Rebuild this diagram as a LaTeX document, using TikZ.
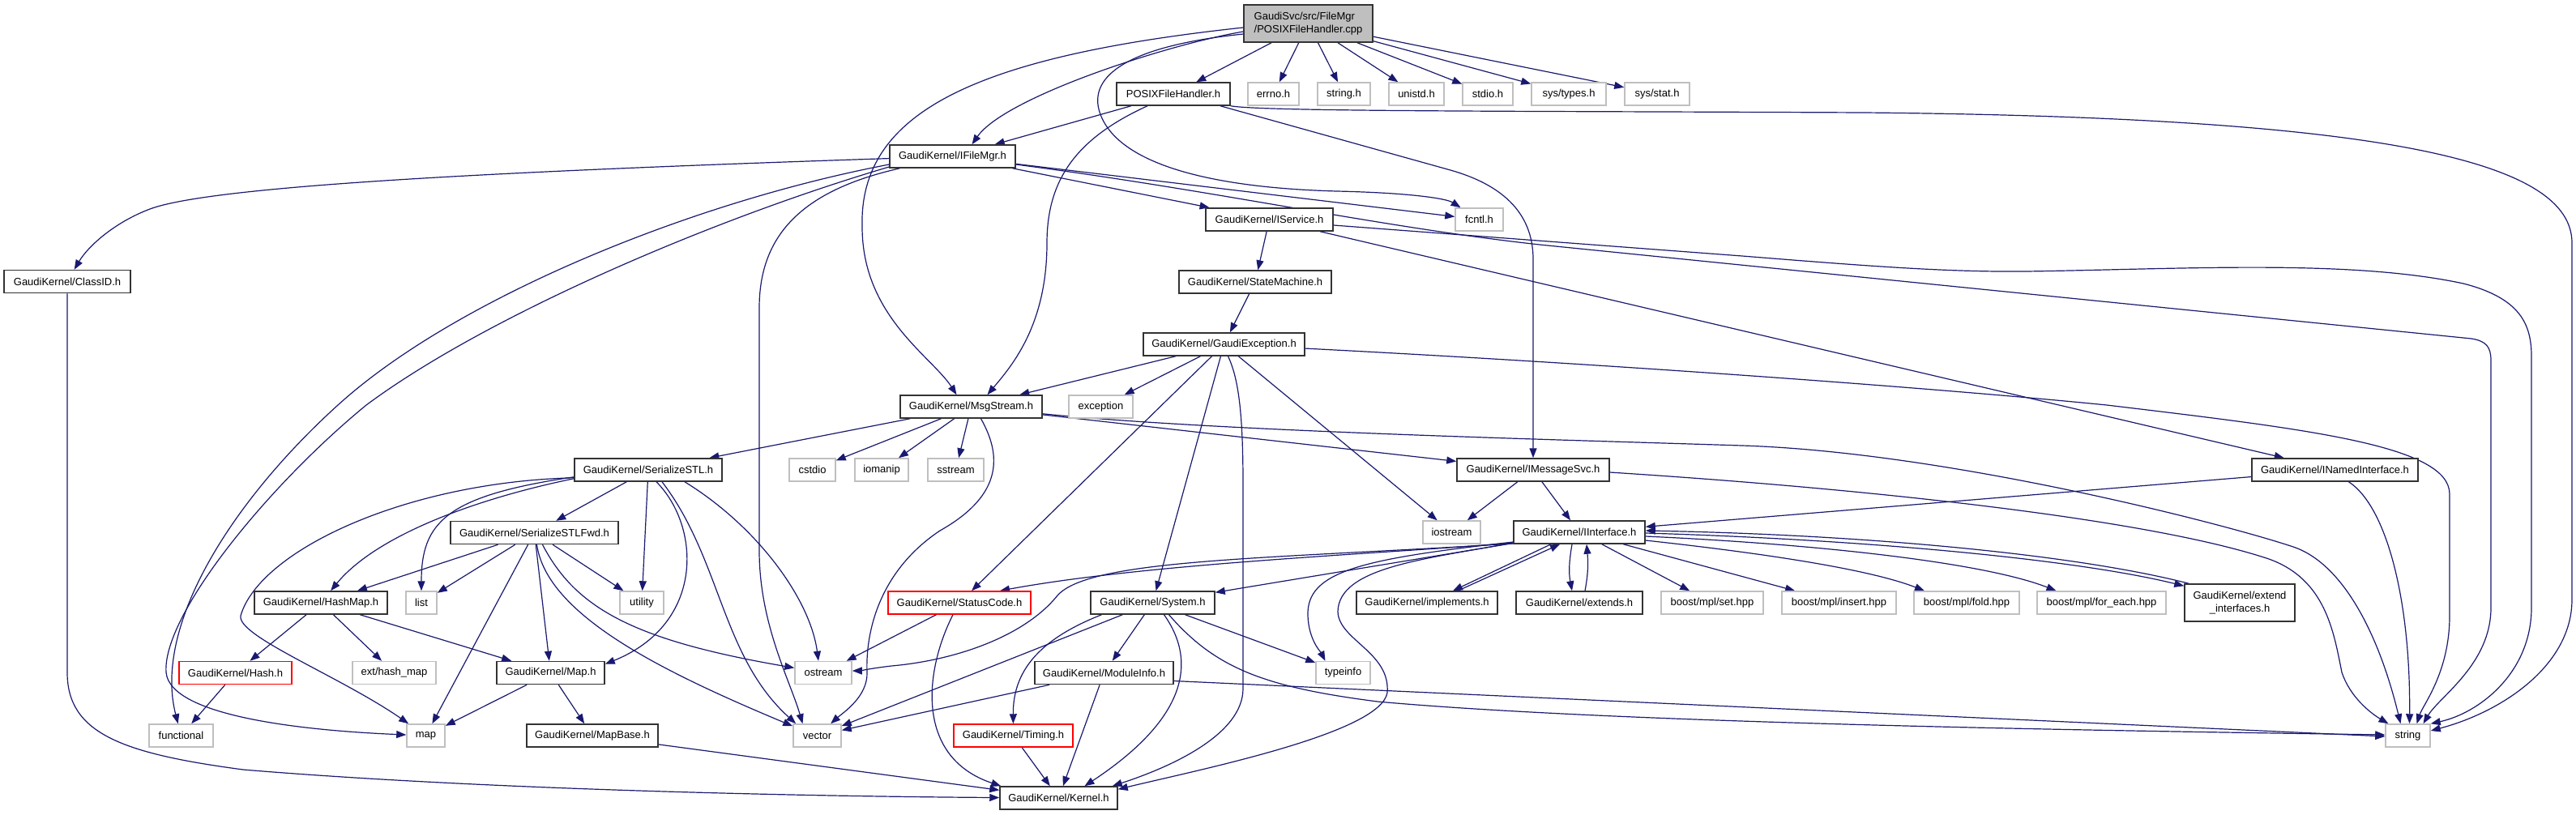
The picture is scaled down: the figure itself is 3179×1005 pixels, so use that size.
\documentclass[tikz,border=0pt]{standalone}
\usepackage{fontspec}
\setmainfont{Liberation Sans}
\usetikzlibrary{arrows.meta}
\pgfdeclarelayer{bg}
\pgfdeclarelayer{paper}
\pgfsetlayers{paper,bg,main}
\definecolor{eb}{HTML}{191970}
\definecolor{lg}{HTML}{BFBFBF}
\begin{document}
\begin{tikzpicture}[x=1pt,y=-1pt,
 gbox/.style={rectangle, inner sep=0pt, minimum height=28pt, line width=1.5pt, fill=white, font=\fontsize{13}{16.5}\selectfont, text=black},
 nb/.style={gbox, draw=black!80},
 ng/.style={gbox, draw=lg},
 nr/.style={gbox, draw=red},
 ed/.style={draw=eb, line width=1.2pt, -{Triangle[length=12pt,width=9pt]}},
]
\useasboundingbox (0,0) rectangle (3179,1005);
\begin{pgfonlayer}{paper}
\fill[white] (0,0) rectangle (3179,1005);
\end{pgfonlayer}
% nodes
\node[nb, fill=lg, minimum width=159pt, minimum height=46pt, align=left] (root) at (1614.5,29) {GaudiSvc/src/FileMgr\\/POSIXFileHandler.cpp};
\node[nb, minimum width=140pt] (posixh) at (1448,116) {POSIXFileHandler.h};
\node[ng, minimum width=63pt] (errno) at (1571.5,116) {errno.h};
\node[ng, minimum width=65pt] (stringh) at (1658.5,116) {string.h};
\node[ng, minimum width=68pt] (unistd) at (1748,116) {unistd.h};
\node[ng, minimum width=62pt] (stdio) at (1836,116) {stdio.h};
\node[ng, minimum width=92pt] (systypes) at (1936,116) {sys/types.h};
\node[ng, minimum width=80pt] (sysstat) at (2045,116) {sys/stat.h};
\node[nb, minimum width=155pt] (ifilemgr) at (1175.5,193) {GaudiKernel/IFileMgr.h};
\node[nb, minimum width=157pt] (iservice) at (1566.5,271) {GaudiKernel/IService.h};
\node[ng, minimum width=59pt] (fcntl) at (1825.5,271) {fcntl.h};
\node[nb, minimum width=156pt] (classid) at (83,347.5) {GaudiKernel/ClassID.h};
\node[nb, minimum width=188pt] (statemachine) at (1549,348) {GaudiKernel/StateMachine.h};
\node[nb, minimum width=199pt] (gaudiexc) at (1510.5,425) {GaudiKernel/GaudiException.h};
\node[nb, minimum width=175pt] (msgstream) at (1198.5,502) {GaudiKernel/MsgStream.h};
\node[ng, minimum width=79pt] (exception) at (1358.5,502) {exception};
\node[nb, minimum width=182pt] (serialstl) at (800,580) {GaudiKernel/SerializeSTL.h};
\node[ng, minimum width=57pt] (cstdio) at (1002.5,580) {cstdio};
\node[ng, minimum width=66pt] (iomanip) at (1088,580) {iomanip};
\node[ng, minimum width=69pt] (sstream) at (1179.5,580) {sstream};
\node[nb, minimum width=188pt] (imsgsvc) at (1892,580) {GaudiKernel/IMessageSvc.h};
\node[nb, minimum width=205pt] (inamed) at (2881.5,580) {GaudiKernel/INamedInterface.h};
\node[nb, minimum width=207pt] (serialfwd) at (659.5,657.5) {GaudiKernel/SerializeSTLFwd.h};
\node[ng, minimum width=71pt] (iostream) at (1791.5,657) {iostream};
\node[nb, minimum width=162pt] (iinterface) at (1949,657) {GaudiKernel/IInterface.h};
\node[nb, minimum width=164pt] (hashmap) at (396,744) {GaudiKernel/HashMap.h};
\node[ng, minimum width=38pt] (list) at (520,744) {list};
\node[ng, minimum width=54pt] (utility) at (792,744) {utility};
\node[nr, minimum width=176pt] (statuscode) at (1184,744) {GaudiKernel/StatusCode.h};
\node[nb, minimum width=153pt] (system) at (1422.5,744) {GaudiKernel/System.h};
\node[nb, minimum width=174pt] (implements) at (1761,744) {GaudiKernel/implements.h};
\node[nb, minimum width=156pt] (extends) at (1949,744) {GaudiKernel/extends.h};
\node[ng, minimum width=126pt] (mplset) at (2113,744) {boost/mpl/set.hpp};
\node[ng, minimum width=141pt] (mplinsert) at (2269.5,744) {boost/mpl/insert.hpp};
\node[ng, minimum width=130pt] (mplfold) at (2427,744) {boost/mpl/fold.hpp};
\node[ng, minimum width=159pt] (mplforeach) at (2593.5,744) {boost/mpl/for\_each.hpp};
\node[nb, minimum width=136pt, minimum height=46pt, align=center] (extendif) at (2764,744) {GaudiKernel/extend\\\_interfaces.h};
\node[nr, minimum width=139pt] (hash) at (290.5,830.5) {GaudiKernel/Hash.h};
\node[ng, minimum width=103pt] (exthashmap) at (486.5,830.5) {ext/hash\_map};
\node[nb, minimum width=133pt] (maph) at (679.5,830.5) {GaudiKernel/Map.h};
\node[ng, minimum width=70pt] (ostream) at (1016,830.5) {ostream};
\node[nb, minimum width=171pt] (moduleinfo) at (1362.5,830.5) {GaudiKernel/ModuleInfo.h};
\node[ng, minimum width=67pt] (typeinfo) at (1657.5,830.5) {typeinfo};
\node[ng, minimum width=79pt] (functional) at (223.5,908) {functional};
\node[ng, minimum width=47pt] (map) at (525.5,908) {map};
\node[nb, minimum width=162pt] (mapbase) at (731,908) {GaudiKernel/MapBase.h};
\node[ng, minimum width=59pt] (vector) at (1008.5,908) {vector};
\node[nr, minimum width=147pt] (timing) at (1250.5,908) {GaudiKernel/Timing.h};
\node[ng, minimum width=55pt] (string) at (2971.5,908) {string};
\node[nb, minimum width=145pt] (kernel) at (1306.5,985) {GaudiKernel/Kernel.h};
% edges
\begin{pgfonlayer}{bg}
% root
\draw[ed] (root) -- (posixh);
\draw[ed] (root) -- (errno);
\draw[ed] (root) -- (stringh);
\draw[ed] (root) -- (unistd);
\draw[ed] (root) -- (stdio);
\draw[ed] (root) -- (systypes);
\draw[ed] (root) -- (sysstat);
\draw[ed] ([yshift=-10pt]root.west) .. controls (1440,55) and (1240,120) .. ([xshift=24pt]ifilemgr.north);
\draw[ed] ([yshift=-5pt]root.west) .. controls (1200,70) and (1060,140) .. (1064,280) .. controls (1064,390) and (1150,440) .. ([xshift=-18pt]msgstream.north);
\draw[ed] ([yshift=-13pt]root.west) .. controls (1380,58) and (1335,100) .. (1362,150) .. controls (1392,205) and (1500,232) .. (1650,236) .. controls (1740,238) and (1785,245) .. (fcntl);
% posixh
\draw[ed] (posixh) -- (ifilemgr);
\draw[ed] ([xshift=-32pt]posixh.south) .. controls (1330,170) and (1292,220) .. (1292,300) .. controls (1292,400) and (1250,450) .. ([xshift=20pt]msgstream.north);
\draw[ed] ([xshift=58pt]posixh.south) -- (1790,210) .. controls (1850,227) and (1892,260) .. (1892,320) -- (imsgsvc);
\draw[ed] (posixh.south east) .. controls (1560,138) and (1900,137) .. (2300,139) .. controls (2950,145) and (3174,200) .. (3174,300) -- (3174,740) .. controls (3174,820) and (3090,878) .. ([yshift=6pt]string.east);
% ifilemgr
\draw[ed] (ifilemgr) .. controls (600,212) and (260,230) .. (185,258) .. controls (140,275) and (108,305) .. (classid);
\draw[ed] ([yshift=-10pt]ifilemgr.west) .. controls (850,250) and (560,370) .. (417,500) .. controls (290,615) and (188,770) .. (functional);
\draw[ed] ([yshift=-13pt]ifilemgr.west) .. controls (880,270) and (600,390) .. (452,500) .. controls (330,600) and (200,760) .. (205,830) .. controls (210,885) and (380,902) .. (map);
\draw[ed] ([xshift=-65pt]ifilemgr.south) .. controls (990,235) and (937,290) .. (937,380) -- (937,680) .. controls (937,770) and (975,840) .. ([xshift=-18pt]vector.north);
\draw[ed] (ifilemgr) -- (iservice);
\draw[ed] (ifilemgr) -- (fcntl);
\draw[ed] ([yshift=-10pt]ifilemgr.east) .. controls (1500,235) and (1700,280) .. (1900,302) -- (3050,418) .. controls (3068,421) and (3074,428) .. (3074,445) -- (3074,750) .. controls (3074,820) and (3010,860) .. ([xshift=19pt]string.north);
% iservice
\draw[ed] (iservice) -- (statemachine);
\draw[ed] (iservice) -- (inamed);
\draw[ed] ([yshift=-7pt]iservice.east) -- (2150,316) .. controls (2300,328) and (2400,336) .. (2500,335) .. controls (2700,332) and (2900,320) .. (3040,350) .. controls (3110,368) and (3124,400) .. (3124,440) -- (3124,750) .. controls (3124,830) and (3060,880) .. (string.north east);
% statemachine
\draw[ed] (statemachine) -- (gaudiexc);
% gaudiexc
\draw[ed] (gaudiexc) -- (msgstream);
\draw[ed] (gaudiexc) -- (exception);
\draw[ed] (gaudiexc) -- (statuscode);
\draw[ed] (gaudiexc) -- (system);
\draw[ed] (gaudiexc) -- (iostream);
\draw[ed] ([xshift=5pt]gaudiexc.south) .. controls (1530,470) and (1534,520) .. (1534,600) -- (1534,850) .. controls (1534,905) and (1450,945) .. ([xshift=-7pt]kernel.north east);
\draw[ed] (gaudiexc) .. controls (2000,450) and (2400,480) .. (2600,500) .. controls (2850,530) and (3023,550) .. (3023,610) -- (3023,760) .. controls (3023,830) and (2990,870) .. ([xshift=11pt]string.north);
% msgstream
\draw[ed] (msgstream) -- (serialstl);
\draw[ed] (msgstream) -- (cstdio);
\draw[ed] (msgstream) -- (iomanip);
\draw[ed] (msgstream) -- (sstream);
\draw[ed] ([xshift=12pt]msgstream.south) .. controls (1235,560) and (1240,610) .. (1160,655) .. controls (1085,705) and (1068,780) .. (1070,830) .. controls (1071,860) and (1040,880) .. (vector);
\draw[ed] (msgstream) -- (imsgsvc);
\draw[ed] (msgstream) .. controls (1500,532) and (1900,542) .. (2150,550) .. controls (2400,558) and (2740,645) .. (2830,675) .. controls (2890,695) and (2935,780) .. ([xshift=-9pt]string.north);
% imsgsvc
\draw[ed] (imsgsvc) -- (iostream);
\draw[ed] (imsgsvc) -- (iinterface);
\draw[ed] ([yshift=-3pt]imsgsvc.east) .. controls (2300,603) and (2650,640) .. (2800,690) .. controls (2870,715) and (2880,780) .. (2890,830) .. controls (2900,860) and (2925,880) .. ([xshift=-24pt]string.north);
% inamed
\draw[ed] (inamed) -- (iinterface);
\draw[ed] ([xshift=17pt]inamed.south) .. controls (2945,625) and (2975,740) .. ([xshift=2pt]string.north);
% iinterface
\draw[ed] ([yshift=-13pt]iinterface.west) .. controls (1700,684) and (1420,695) .. ([xshift=50pt]statuscode.north);
\draw[ed] ([yshift=-14pt]iinterface.west) .. controls (1560,690) and (1345,690) .. (1305,735) .. controls (1265,785) and (1180,815) .. (1100,822) .. controls (1075,825) and (1060,828) .. ([yshift=2.5pt]ostream.east);
\draw[ed] (iinterface) -- (system);
\draw[ed] ([yshift=-12pt]iinterface.west) .. controls (1680,690) and (1612,705) .. (1614,760) .. controls (1615,790) and (1630,805) .. ([xshift=-22pt]typeinfo.north);
\draw[ed] ([yshift=-13pt]iinterface.west) .. controls (1760,690) and (1652,700) .. (1651,755) .. controls (1652,790) and (1716,805) .. (1712,855) .. controls (1704,905) and (1480,950) .. ([yshift=-4pt]kernel.north east);
\draw[ed] ([xshift=-35pt]iinterface.south) -- ([xshift=32pt]implements.north);
\draw[ed] ([xshift=38pt]implements.north) -- ([xshift=-24pt]iinterface.south);
\draw[ed] ([xshift=-9pt]iinterface.south) .. controls (1936,695) and (1936,708) .. ([xshift=-9pt]extends.north);
\draw[ed] ([xshift=7pt]extends.north) .. controls (1960,708) and (1960,695) .. ([xshift=9pt]iinterface.south);
\draw[ed] (iinterface) -- (mplset);
\draw[ed] (iinterface) -- (mplinsert);
\draw[ed] ([yshift=-10pt]iinterface.east) .. controls (2150,680) and (2300,700) .. ([xshift=-52pt]mplfold.north);
\draw[ed] ([yshift=-5pt]iinterface.east) .. controls (2250,672) and (2450,695) .. ([xshift=-56pt]mplforeach.north);
\draw[ed] ([yshift=-1pt]iinterface.east) .. controls (2300,666) and (2560,690) .. ([yshift=-3pt]extendif.north west);
\draw[ed] ([xshift=6pt]extendif.north west) .. controls (2560,684) and (2300,660) .. ([yshift=2pt]iinterface.east);
% system
\draw[ed] ([xshift=-63pt]system.south) .. controls (1280,790) and (1250,830) .. (timing);
\draw[ed] (system) -- (vector);
\draw[ed] (system) -- (moduleinfo);
\draw[ed] ([xshift=14pt]system.south) .. controls (1480,820) and (1460,890) .. ([xshift=32pt]kernel.north);
\draw[ed] (system) -- (typeinfo);
\draw[ed] ([xshift=20pt]system.south) .. controls (1500,825) and (1560,848) .. (1700,866) .. controls (2000,893) and (2600,902) .. ([yshift=1pt]string.west);
% moduleinfo
\draw[ed] (moduleinfo) -- (vector);
\draw[ed] (moduleinfo) -- (kernel);
\draw[ed] ([yshift=-10pt]moduleinfo.east) -- ([yshift=-1pt]string.west);
% timing, statuscode
\draw[ed] (timing) -- (kernel);
\draw[ed] (statuscode) -- (ostream);
\draw[ed] ([xshift=-8pt]statuscode.south) .. controls (1140,830) and (1130,935) .. ([xshift=2pt]kernel.north west);
% serialstl
\draw[ed] (serialstl) -- (serialfwd);
\draw[ed] ([yshift=4pt]serialstl.south west) .. controls (590,615) and (465,660) .. (hashmap);
\draw[ed] ([yshift=6pt]serialstl.south west) .. controls (550,612) and (520,645) .. (list);
\draw[ed] ([yshift=5pt]serialstl.south west) .. controls (500,595) and (320,680) .. (297,760) .. controls (292,785) and (420,835) .. (map);
\draw[ed] (serialstl) -- (utility);
\draw[ed] ([xshift=10pt]serialstl.south) .. controls (865,650) and (870,770) .. ([yshift=-4pt]maph.north east);
\draw[ed] ([xshift=17pt]serialstl.south) .. controls (890,690) and (890,810) .. ([xshift=4pt]vector.north west);
\draw[ed] ([xshift=45pt]serialstl.south) .. controls (935,650) and (1000,740) .. ([xshift=-6pt]ostream.north);
% serialfwd
\draw[ed] (serialfwd) -- (hashmap);
\draw[ed] (serialfwd) -- (list);
\draw[ed] (serialfwd) -- (map);
\draw[ed] (serialfwd) -- (maph);
\draw[ed] ([xshift=3pt]serialfwd.south) .. controls (675,760) and (820,830) .. ([yshift=-3pt]vector.north west);
\draw[ed] ([xshift=10pt]serialfwd.south) .. controls (710,750) and (780,790) .. (ostream);
\draw[ed] (serialfwd) -- (utility);
% others
\draw[ed] (hashmap) -- (hash);
\draw[ed] (hashmap) -- (exthashmap);
\draw[ed] (hashmap) -- (maph);
\draw[ed] (hash) -- (functional);
\draw[ed] (maph) -- (map);
\draw[ed] (maph) -- (mapbase);
\draw[ed] (mapbase) -- (kernel);
\draw[ed] (classid) -- (83,830) .. controls (83,905) and (150,930) .. (300,950) .. controls (600,975) and (1000,983) .. (kernel);
\end{pgfonlayer}
\end{tikzpicture}
\end{document}
